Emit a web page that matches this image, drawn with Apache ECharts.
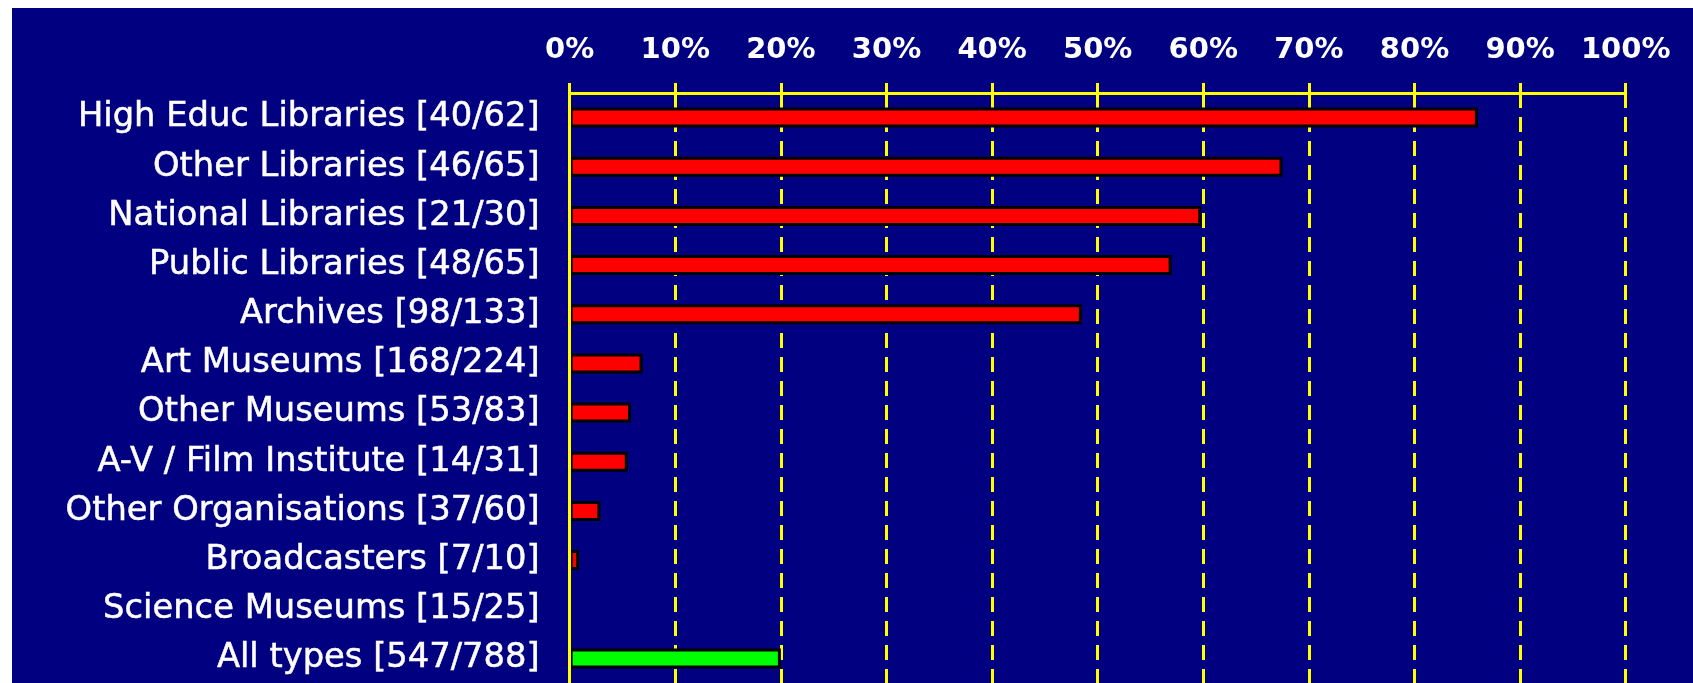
<!DOCTYPE html>
<html>
<head>
<meta charset="utf-8">
<script src="https://cdn.jsdelivr.net/npm/echarts@6/dist/echarts.min.js"></script>
<style>
html,body{margin:0;padding:0;background:#fff;width:1693px;height:683px;overflow:hidden;}
#chart{position:absolute;left:12px;top:8px;width:1681px;height:675px;}
</style>
</head>
<body>
<div id="chart"></div>
<script>
const categories = [
  'High Educ Libraries [40/62]',
  'Other Libraries [46/65]',
  'National Libraries [21/30]',
  'Public Libraries [48/65]',
  'Archives [98/133]',
  'Art Museums [168/224]',
  'Other Museums [53/83]',
  'A-V / Film Institute [14/31]',
  'Other Organisations [37/60]',
  'Broadcasters [7/10]',
  'Science Museums [15/25]',
  'All types [547/788]'
];
const values = [86.0, 67.5, 59.8, 57.0, 48.5, 6.9, 5.8, 5.5, 2.9, 0.9, 0, 20.0];
const totalIndex = 11;
const tickValues = [0, 10, 20, 30, 40, 50, 60, 70, 80, 90, 100];

const chart = echarts.init(document.getElementById('chart'));
chart.setOption({
  animation: false,
  backgroundColor: '#000080',
  grid: { left: 557.7, top: 85, width: 1056, height: 594, containLabel: false },
  xAxis: {
    type: 'value', position: 'top', min: 0, max: 100, interval: 10,
    axisLine: { show: true, lineStyle: { color: '#ffff00', width: 3 } },
    axisTick: { show: true, length: 10, lineStyle: { color: '#ffff00', width: 3 } },
    axisLabel: {
      margin: 28, color: '#ffffff', fontFamily: 'DejaVu Sans', fontSize: 29, fontWeight: 'bold',
      formatter: v => tickValues.includes(v) ? v + '%' : ''
    },
    splitLine: { show: true, lineStyle: { color: '#ffff00', width: 3, type: [15, 9] } }
  },
  yAxis: {
    type: 'category', data: categories, inverse: true, z: 5,
    axisLine: { show: true, lineStyle: { color: '#ffff00', width: 3 } },
    axisTick: { show: false },
    axisLabel: {
      margin: 30, color: '#ffffff', fontFamily: 'DejaVu Sans', fontSize: 33.75,
      textBorderColor: '#ffffff', textBorderWidth: 0.5,
      padding: [6, 0, 0, 0]
    }
  },
  series: [{
    type: 'bar', barWidth: 20, z: 2,
    data: values.map((v, i) => ({
      value: v,
      itemStyle: {
        color: i === totalIndex ? '#00ff00' : '#ff0000',
        borderColor: '#000000',
        borderWidth: v === 0 ? 0 : 3
      }
    }))
  }]
});
</script>
</body>
</html>
